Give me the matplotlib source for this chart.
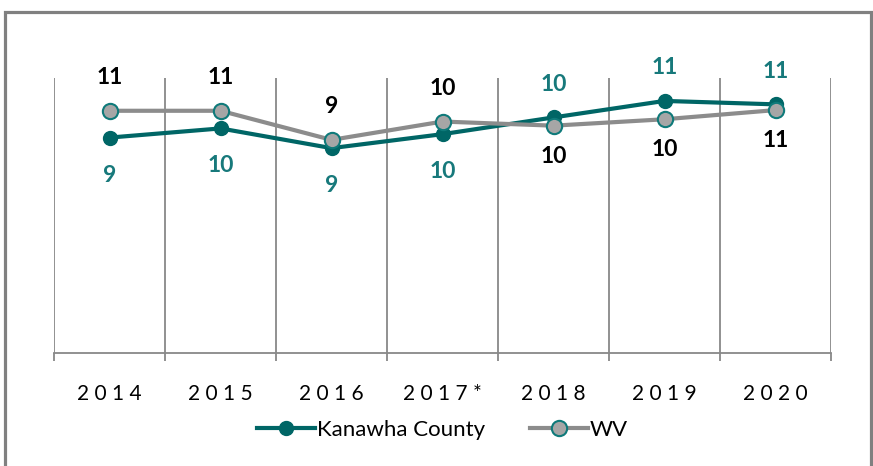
import numpy as np
import matplotlib
matplotlib.use("Agg")
import matplotlib.pyplot as plt
from matplotlib.patches import Rectangle

years = ["2014", "2015", "2016", "2017*", "2018", "2019", "2020"]
kanawha = [9.4, 9.8, 8.94, 9.55, 10.28, 11.0, 10.85]
wv = [10.57, 10.57, 9.3, 10.1, 9.92, 10.2, 10.6]
kanawha_labels = ["9", "10", "9", "10", "10", "11", "11"]
wv_labels = ["11", "11", "9", "10", "10", "10", "11"]

teal = "#006666"
teal_txt = "#17797B"
gray = "#8C8C8C"

plt.rcParams["font.family"] = ["Lato", "DejaVu Sans"]

fig = plt.figure(figsize=(8.73, 4.66), dpi=100)
fig.patches.append(Rectangle((0.0057, -0.05), 0.992, 1.0243, transform=fig.transFigure,
                             fill=False, edgecolor="#808080", linewidth=2.3))
ax = fig.add_axes([0.0619, 0.2425, 0.8900, 0.5901])

x = np.arange(len(years))
ax.plot(x, kanawha, color=teal, linewidth=3, marker="o", markersize=10,
        markerfacecolor=teal, markeredgecolor=teal, label="Kanawha County", zorder=3)
ax.plot(x, wv, color=gray, linewidth=3, marker="o", markersize=11,
        markerfacecolor="#A6A6A6", markeredgecolor="#0F7A7A", markeredgewidth=1.5,
        label="WV", zorder=4)

# data labels: first four years WV above / county below, then swapped
for i in range(len(years)):
    up = i >= 4
    ax.annotate(kanawha_labels[i], (x[i], kanawha[i]), xytext=(0, 24 if up else -27),
                textcoords="offset points", ha="center", va="center",
                fontsize=16.5, fontweight="bold", color=teal_txt)
    ax.annotate(wv_labels[i], (x[i], wv[i]), xytext=(0, -22 if up else 24),
                textcoords="offset points", ha="center", va="center",
                fontsize=16.5, fontweight="bold", color="black")

ax.set_xlim(-0.5, len(years) - 0.5)
ax.set_ylim(0, 12)
ax.set_yticks([])
ax.set_xticks(x)
ax.set_xticklabels([" ".join(y) for y in years], fontsize=15)
ax.set_xticks(np.arange(-0.5, len(years)), minor=True)
ax.tick_params(axis="x", which="major", length=0, pad=22)
ax.tick_params(axis="x", which="minor", length=6, width=1.3, color="#888888")
ax.grid(axis="x", which="minor", color="#888888", linewidth=1.3)
for s in ["top", "left", "right"]:
    ax.spines[s].set_visible(False)
ax.spines["bottom"].set_color("#888888")
ax.spines["bottom"].set_linewidth(1.3)

ax.legend(loc="center", bbox_to_anchor=(0.5, -0.28), ncol=2, frameon=False,
          fontsize=16, handlelength=2.6, handletextpad=0.1, columnspacing=2.0)

fig.savefig("out.png", dpi=100)
